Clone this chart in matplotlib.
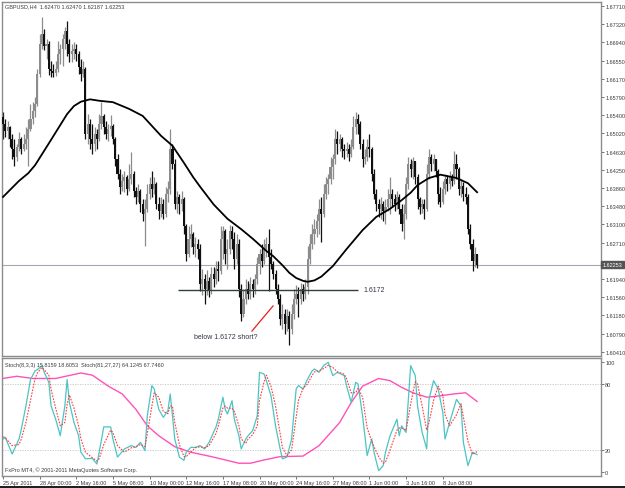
import numpy as np
import matplotlib.pyplot as plt
from matplotlib.patches import Rectangle

# GBPUSD H4, prices kept in pips above 1.6000
open_first = 536
close_pips = [
    522, 507, 516, 490, 469, 452, 473, 490, 469, 480,
    490, 511, 532, 549, 564, 627, 691, 712, 686, 691,
    638, 634, 629, 638, 670, 680, 701, 718, 691, 670,
    676, 680, 670, 642, 627, 638, 501, 522, 490, 480,
    501, 490, 522, 538, 516, 501, 511, 518, 490, 448,
    416, 389, 402, 410, 385, 406, 416, 381, 368, 381,
    353, 332, 343, 374, 395, 385, 395, 353, 338, 353,
    332, 374, 385, 469, 437, 353, 368, 353, 364, 307,
    248, 279, 290, 262, 269, 258, 184, 195, 174, 191,
    170, 205, 195, 216, 212, 279, 296, 248, 258, 296,
    279, 237, 269, 174, 121, 152, 174, 163, 184, 174,
    195, 227, 248, 233, 258, 269, 241, 227, 205, 174,
    152, 110, 121, 100, 117, 89, 121, 152, 163, 152,
    174, 163, 178, 237, 269, 290, 300, 317, 343, 332,
    374, 395, 406, 431, 448, 490, 480, 490, 469, 465,
    469, 459, 473, 516, 532, 522, 480, 448, 452, 473,
    469, 416, 374, 353, 343, 353, 338, 347, 364, 374,
    364, 353, 368, 343, 311, 332, 395, 437, 427, 444,
    410, 364, 347, 353, 343, 416, 452, 437, 448, 423,
    374, 357, 385, 406, 395, 410, 402, 437, 427, 385,
    391, 374, 368, 300, 269, 233, 247, 225,
]
high_pips = [
    547, 532, 528, 518, 501, 490, 480, 505, 494, 501,
    516, 532, 564, 568, 579, 638, 712, 748, 722, 701,
    697, 655, 649, 655, 697, 691, 712, 727, 739, 701,
    691, 695, 691, 676, 659, 655, 642, 543, 532, 522,
    516, 511, 543, 568, 543, 528, 522, 541, 522, 494,
    459, 427, 416, 423, 414, 437, 463, 423, 389, 395,
    385, 364, 364, 395, 410, 423, 410, 399, 368, 368,
    364, 389, 402, 511, 480, 448, 381, 374, 381, 368,
    311, 307, 311, 294, 283, 279, 269, 216, 205, 214,
    199, 220, 220, 233, 233, 307, 307, 300, 279, 309,
    307, 294, 290, 279, 184, 174, 195, 191, 199, 195,
    205, 241, 258, 269, 279, 283, 300, 258, 233, 214,
    184, 163, 142, 132, 132, 127, 142, 174, 182, 178,
    186, 184, 195, 264, 290, 311, 321, 332, 364, 368,
    395, 410, 416, 452, 459, 511, 507, 501, 494, 480,
    484, 480, 490, 538, 547, 543, 528, 490, 469, 490,
    501, 473, 427, 385, 364, 368, 359, 364, 385, 410,
    385, 374, 381, 374, 353, 353, 410, 452, 448, 452,
    437, 416, 368, 364, 364, 437, 469, 459, 459, 448,
    427, 389, 402, 416, 414, 423, 416, 465, 459, 431,
    406, 399, 389, 374, 311, 279, 262, 247,
]
low_pips = [
    490, 494, 490, 473, 448, 433, 444, 465, 459, 465,
    469, 433, 507, 522, 536, 560, 621, 680, 678, 659,
    625, 621, 621, 623, 632, 649, 644, 680, 665, 653,
    653, 659, 655, 627, 613, 621, 490, 480, 469, 459,
    465, 469, 486, 511, 501, 490, 486, 497, 480, 433,
    406, 374, 381, 378, 372, 381, 395, 368, 353, 357,
    336, 317, 264, 336, 364, 368, 374, 343, 321, 325,
    321, 325, 357, 374, 427, 343, 334, 332, 338, 290,
    233, 241, 262, 248, 241, 237, 170, 161, 142, 161,
    157, 163, 178, 184, 191, 205, 237, 227, 216, 248,
    258, 216, 227, 157, 106, 114, 142, 152, 152, 157,
    163, 184, 205, 220, 227, 241, 170, 216, 195, 163,
    142, 98, 89, 79, 85, 56, 79, 110, 142, 114,
    142, 148, 152, 163, 227, 258, 269, 283, 290, 273,
    325, 364, 374, 395, 406, 437, 459, 465, 452, 448,
    452, 444, 452, 469, 501, 501, 469, 431, 437, 444,
    452, 402, 364, 338, 325, 321, 317, 311, 338, 332,
    347, 338, 343, 332, 296, 279, 321, 385, 410, 406,
    395, 343, 332, 334, 321, 338, 406, 423, 423, 410,
    353, 347, 353, 374, 381, 385, 391, 395, 406, 372,
    368, 359, 353, 290, 258, 212, 220, 219,
]

# moving average (black line)
ma_idx = [0, 7, 11, 14, 17, 20, 24, 28, 31, 34, 38, 42, 48, 55, 61, 65, 69, 74, 79, 83, 86,
          92, 98, 104, 109, 115, 118, 122, 125, 128, 131, 133, 136, 139, 144, 150, 157, 163,
          169, 174, 178, 181, 186, 191, 198, 203, 207]
ma_pips = [368, 402, 418, 435, 458, 481, 512, 543, 560, 569, 574, 571, 568, 554, 539, 518,
           497, 476, 440, 410, 390, 352, 322, 300, 280, 254, 243, 224, 208, 197, 191, 189,
           192, 200, 222, 258, 298, 326, 343, 361, 377, 393, 408, 415, 408, 397, 378]

# Stoch(8,3,3)
stoch_idx = [0, 1, 4, 7, 8, 10, 12, 14, 15, 17, 18, 20, 21, 23, 25, 27, 28, 29, 31, 33,
             34, 36, 39, 41, 42, 44, 47, 48, 50, 53, 56, 58, 60, 62, 63, 65, 66, 68, 70, 72,
             73, 74, 75, 77, 79, 80, 82, 84, 86, 88, 90, 93, 94, 96, 97, 98, 100, 101, 103, 104,
             106, 107, 109, 111, 112, 114, 115, 117, 119, 121, 122, 124, 126, 128, 129, 131,
             133, 135, 136, 138, 140, 142, 144, 146, 149, 150, 152, 154, 155, 157, 159, 161,
             162, 164, 166, 167, 169, 172, 173, 174, 176, 178, 180, 181, 183, 185, 186, 188,
             190, 192, 193, 195, 198, 200, 201, 203, 205, 207]
stoch_main = [30, 31.5, 16.4, 30, 39, 60, 84, 92, 93, 96.7, 90.6, 81.5, 60, 48, 33, 60, 84, 63,
              45, 33, 18, 12, 12.4, 7.3, 18, 41, 41, 30, 13.6, 21, 24, 22.4, 27, 19.4, 51, 78.5,
              75.5, 57, 49.7, 55.7, 70.9, 51, 30, 13.6, 10.6, 18, 22.4, 22.4, 24, 21, 27, 41,
              48, 68, 57, 52.7, 64.8, 48, 33, 21, 30, 33, 37.6, 51, 90.6, 89, 83, 69.4, 42, 21,
              12, 13.6, 30, 75.5, 78.5, 75.5, 84.5, 92, 93.6, 90.6, 96.7, 99.7, 87.6, 90.6, 87.6,
              78.5, 63.3, 81.5, 80, 51, 15, 30, 18, 1.2, 5.8, 18, 33, 48, 33, 42, 36, 96.7, 87.6,
              60, 36, 21, 66, 83, 75.5, 54.5, 30, 45, 66, 60, 27, 5.8, 18, 15.8]
stoch_signal = [32, 31, 24, 25, 30, 45, 65, 85, 90, 95, 93, 88, 75, 58, 42, 45, 62, 70, 58, 42,
                30, 18, 13, 10, 12, 25, 38, 36, 24, 18, 22, 23, 25, 23, 35, 60, 72, 68, 55, 53,
                60, 60, 45, 25, 14, 14, 18, 22, 23, 22, 24, 35, 42, 58, 60, 58, 58, 55, 42, 30,
                26, 30, 34, 42, 65, 82, 88, 78, 60, 35, 22, 15, 20, 50, 65, 76, 80, 88, 91, 92,
                94, 97, 95, 91, 89, 85, 72, 72, 76, 68, 40, 28, 23, 14, 8, 9, 20, 38, 40, 40,
                38, 62, 82, 80, 60, 38, 45, 65, 78, 70, 52, 42, 52, 62, 50, 28, 16, 18.6]

# Stoch(81,27,27)
slow_idx = [0, 6, 13, 23, 34, 39, 46, 52, 58, 63, 68, 75, 82, 91, 103, 108, 114, 121, 131, 138,
            147, 152, 157, 164, 169, 174, 179, 185, 190, 197, 202, 207]
slow_main = [85, 87, 85, 85, 90, 88, 78, 71, 57, 42, 33, 23, 18, 14, 8, 8, 11, 14, 14.5, 24,
             45, 63, 78, 85, 83, 77, 72, 68, 69, 71, 72, 64.1]

# 1.62330 sits under the current-price box in the original, so it is left out
price_ticks = ['1.67710', '1.67320', '1.66940', '1.66550', '1.66170', '1.65790', '1.65400',
               '1.65020', '1.64630', '1.64250', '1.63860', '1.63480', '1.63100', '1.62710',
               '1.61940', '1.61560', '1.61180', '1.60790', '1.60410']
time_idx = [0, 16, 32, 48, 64, 80, 96, 112, 128, 144, 160, 176, 192]
time_labels = ['25 Apr 2011', '28 Apr 00:00', '2 May 16:00', '5 May 08:00', '10 May 00:00',
               '12 May 16:00', '17 May 08:00', '20 May 00:00', '24 May 16:00', '27 May 08:00',
               '1 Jun 00:00', '3 Jun 16:00', '8 Jun 08:00']
last_price = 1.62253
level = 1.6172

plt.rcParams['font.family'] = ['Liberation Sans', 'DejaVu Sans']
txt = '#3c3c3c'
frame = '#8c8c8c'


def to_price(p):
    return 1.6 + np.asarray(p, dtype=float) / 10000.0


closes = to_price(close_pips)
highs = to_price(high_pips)
lows = to_price(low_pips)
opens = np.concatenate([[to_price(open_first)], closes[:-1]])
x = np.arange(len(closes))
up = closes >= opens

fig = plt.figure(figsize=(6.25, 4.89), dpi=100)
ax = fig.add_axes([2 / 625, 1 - 357 / 489, 599 / 625, 354 / 489])
ax2 = fig.add_axes([2 / 625, 1 - 477 / 489, 599 / 625, 118 / 489])

# candles
col = np.where(up, '#8c8c8c', '#101010')
hi = np.maximum(highs, np.maximum(opens, closes))
lo = np.minimum(lows, np.minimum(opens, closes))
ax.vlines(x, lo, hi, colors=col, lw=0.9, zorder=2)
body_lo = np.minimum(opens, closes)
body_h = np.maximum(np.abs(closes - opens), 0.00006)
ax.bar(x, body_h, 0.9, bottom=body_lo, color=col, linewidth=0, zorder=3)

ax.plot(ma_idx, to_price(ma_pips), color='black', lw=1.3, zorder=4)
ax.axhline(last_price, color='#a4a8b4', lw=0.8, zorder=1)

# drawn objects
ax.hlines(level, 76.4, 155, color='#33403f', lw=1.0, zorder=5)
ax.text(157.3, level, '1.6172', fontsize=5, color='#3a3040', va='center', ha='left')
ax.plot([108.7, 117.9], [1.6085, 1.6138], color='#e42020', lw=0.9, zorder=5)
ax.text(97.4, 1.6073, 'below 1.6172 short?', fontsize=5, color='#333344',
        va='center', ha='center')

ax.set_xlim(-0.44, 261.1)
ax.set_ylim(1.60324, 1.67794)
ax.set_xticks([])
ax.yaxis.tick_right()
ax.set_yticks([float(t) for t in price_ticks])
ax.set_yticklabels(price_ticks)
ax.tick_params(axis='y', length=2, width=0.5, pad=1, labelsize=4, colors=txt)
ax.text(1.003, last_price, '1.62253', transform=ax.get_yaxis_transform(), fontsize=4,
        color='white', va='center', ha='left', zorder=10,
        bbox=dict(boxstyle='square,pad=0.25', fc='#555555', ec='#555555'))

# stochastics
ax2.axhline(20, color='#c4c4c4', lw=0.6, ls=(0, (1.5, 1.5)))
ax2.axhline(80, color='#c4c4c4', lw=0.6, ls=(0, (1.5, 1.5)))
ax2.plot(slow_idx, slow_main, color='#ff52b8', lw=1.0)
ax2.plot(stoch_idx, stoch_main, color='#4cc4c4', lw=0.9)
ax2.plot(stoch_idx, stoch_signal, color='#ff3c3c', lw=0.8, ls=(0, (1.5, 1.2)))
ax2.set_xlim(-0.44, 261.1)
ax2.set_ylim(-3.6, 103.6)
ax2.yaxis.tick_right()
ax2.set_yticks([0, 20, 80, 100])
ax2.set_yticklabels(['0', '20', '80', '100'])
ax2.tick_params(axis='y', length=2, width=0.5, pad=1, labelsize=4, colors=txt)
ax2.set_xticks(time_idx)
ax2.set_xticklabels(time_labels, ha='left')
ax2.tick_params(axis='x', length=2, width=0.5, pad=1, labelsize=4, colors=txt)
ax2.text(0.005, 0.965, 'Stoch(8,3,3) 15.8159 18.6053  Stoch(81,27,27) 64.1245 67.7460',
         transform=ax2.transAxes, fontsize=4, color=txt, va='top', ha='left')
ax2.text(0.005, 0.035, 'FxPro MT4, \u00a9 2001-2011 MetaQuotes Software Corp.',
         transform=ax2.transAxes, fontsize=4, color=txt, va='bottom', ha='left')

for a in (ax, ax2):
    for s in a.spines.values():
        s.set_color(frame)
        s.set_linewidth(1.0)

fig.text(5 / 625, 1 - 7 / 489, 'GBPUSD,H4  1.62470 1.62470 1.62187 1.62253',
         fontsize=4, color=txt, va='center', ha='left')
fig.patches.append(Rectangle((0, 0), 1, 2.5 / 489, transform=fig.transFigure,
                             fc='#202020', ec='none'))

fig.savefig('out.png', dpi=100)
